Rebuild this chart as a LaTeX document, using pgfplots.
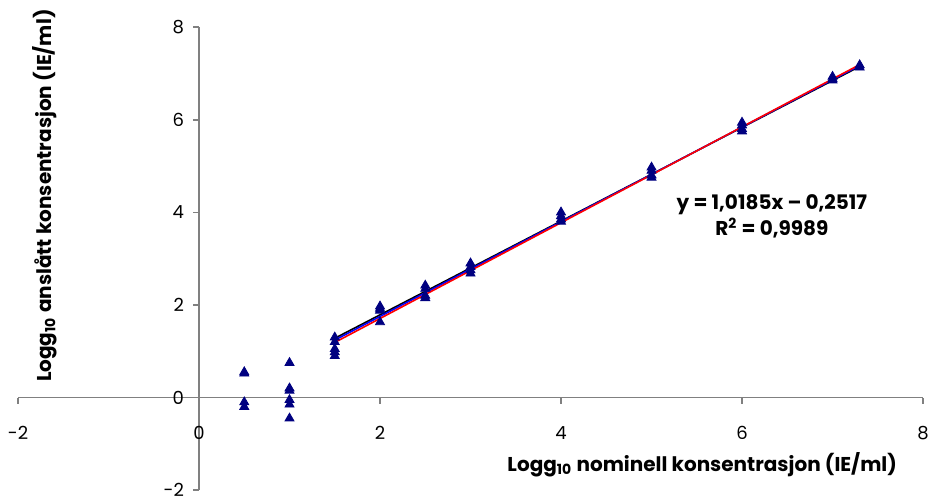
\documentclass[border=0pt]{standalone}
\usepackage{fontspec}
\setmainfont{Poppins}
\usepackage{pgfplots}
\pgfplotsset{compat=1.18}
\definecolor{navytri}{RGB}{0,0,128}
\definecolor{axgray}{RGB}{128,128,128}
\definecolor{fitblue}{RGB}{0,0,255}
\definecolor{fitred}{RGB}{255,0,0}
\begin{document}
\begin{tikzpicture}
\begin{axis}[
  scale only axis,
  width=452.5pt, height=231.5pt,
  axis lines=middle,
  xmin=-2, xmax=8, ymin=-2, ymax=8,
  xtick={-2,0,2,4,6,8}, ytick={-2,0,2,4,6,8},
  xticklabels={-2,0,2,4,6,8}, yticklabels={-2,0,2,4,6,8},
  hide obscured x ticks=false, hide obscured y ticks=false,
  tick align=outside,
  major tick length=3pt,
  axis line style={-, axgray, line width=0.8pt},
  tick style={axgray, line width=0.8pt},
  ticklabel style={font=\fontsize{9}{10}\selectfont, text=black},
  xticklabel style={yshift=-8pt},
  yticklabel style={xshift=-1pt},
  clip=false,
]
% data points
\addplot[only marks, mark=triangle*, mark size=2.6pt, color=navytri] coordinates {
  (0.5,0.55) (0.5,0.52) (0.5,-0.1) (0.5,-0.2)
  (1,0.75) (1,0.2) (1,0.15) (1,-0.05) (1,-0.15) (1,-0.45)
  (1.5,1.3) (1.5,1.2) (1.5,1.05) (1.5,0.98) (1.5,0.9)
  (2,1.97) (2,1.92) (2,1.88) (2,1.63)
  (2.5,2.42) (2.5,2.35) (2.5,2.2) (2.5,2.15)
  (3,2.9) (3,2.82) (3,2.75) (3,2.68)
  (4,4.0) (4,3.92) (4,3.85) (4,3.8)
  (5,4.97) (5,4.9) (5,4.8) (5,4.75)
  (6,5.94) (6,5.88) (6,5.8) (6,5.75)
  (7,6.93) (7,6.88) (7,6.85)
  (7.3,7.18) (7.3,7.13)
};
% fitted lines
\addplot[black, line width=0.8pt] coordinates {(1.5,1.28) (7.3,7.15)};
\addplot[fitblue, line width=0.8pt] coordinates {(1.5,1.24) (7.3,7.17)};
\addplot[fitred, line width=0.8pt] coordinates {(1.5,1.19) (7.3,7.19)};

\node[font=\bfseries\fontsize{10}{12}\selectfont, align=center] at (axis cs:6.33,3.91)
  {y = 1,0185x – 0,2517\\[1pt]R\textsuperscript{2} = 0,9989};
\node[font=\bfseries\fontsize{10}{12}\selectfont] at (axis cs:5.56,-1.45)
  {Logg\textsubscript{10} nominell konsentrasjon (IE/ml)};
\node[font=\bfseries\fontsize{10}{12}\selectfont, rotate=90] at (axis cs:-1.70,4.36)
  {Logg\textsubscript{10} anslått konsentrasjon (IE/ml)};

\coordinate (bbA) at (axis cs:-2.199,-2.17);
\coordinate (bbB) at (axis cs:8.055,8.586);
\end{axis}
\pgfresetboundingbox
\useasboundingbox (bbA) rectangle (bbB);
\end{tikzpicture}
\end{document}
